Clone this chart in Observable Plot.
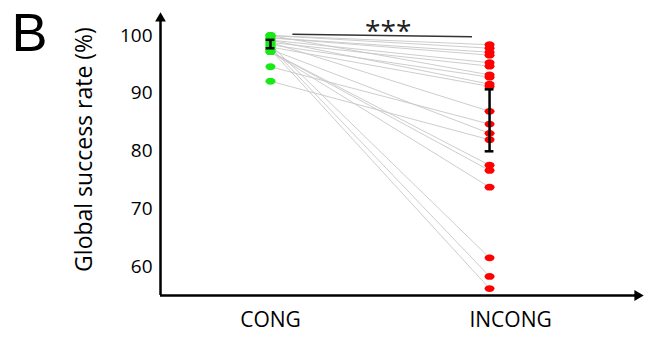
<!DOCTYPE html>
<html>
<head>
<meta charset="utf-8">
<script src="https://cdn.jsdelivr.net/npm/d3@7"></script>
<script src="https://cdn.jsdelivr.net/npm/@observablehq/plot@0.6"></script>
<style>
  html, body { margin: 0; padding: 0; background: white; }
</style>
</head>
<body>
<div id="chart"></div>
<script>
// ---- data ----
const categories = ["CONG", "INCONG"];
const congValues   = [100, 100, 100, 99.6, 99.6, 99.2, 99.2, 98.8, 98.8, 98.4, 98.4, 98.0, 98.0, 97.6, 97.6, 97.2, 97.2, 97.2, 94.6, 92.1];
const incongValues = [98.4, 97.8, 93.2, 97.1, 96.6, 95.3, 91.6, 94.7, 86.9, 92.8, 61.6, 91.2, 58.4, 83.1, 56.3, 77.6, 76.7, 73.8, 84.7, 82.0];
const errMean = [98.5, 85.35];
const errLow  = [97.8, 80.0];
const errHigh = [99.25, 90.7];
const yTicks = [60, 70, 80, 90, 100];
const yLabel = "Global success rate (%)";
const panelLabel = "B";
const sigLabel = "***";
const sigBarY = [100.2, 99.8];   // significance bar, value units at its two ends
const sigBarX = [0.1, 0.92];     // category-index units
const sigLabelY = 100.6;

// ---- build tables ----
const rows = [];
congValues.forEach((v, i) => {
  rows.push({p: i, c: 0, v});
  rows.push({p: i, c: 1, v: incongValues[i]});
});
const errs = categories.map((c, i) => ({c: i, mean: errMean[i], lo: errLow[i], hi: errHigh[i]}));
const colors = ["#18ea18", "#ff0000"];

const xDomain = [-0.502, 1.689];
const yDomain = [55.1, 103.45];

const ellipse = {
  draw(ctx, size) {
    const r = Math.sqrt(size / Math.PI);
    const rx = r * 1.25, ry = r * 0.85, k = 0.5523;
    ctx.moveTo(rx, 0);
    ctx.bezierCurveTo(rx, ry * k, rx * k, ry, 0, ry);
    ctx.bezierCurveTo(-rx * k, ry, -rx, ry * k, -rx, 0);
    ctx.bezierCurveTo(-rx, -ry * k, -rx * k, -ry, 0, -ry);
    ctx.bezierCurveTo(rx * k, -ry, rx, -ry * k, rx, 0);
    ctx.closePath();
  }
};

const chart = Plot.plot({
  width: 655,
  height: 339,
  marginLeft: 160,
  marginRight: 15,
  marginTop: 15,
  marginBottom: 44,
  style: {fontFamily: "'Open Sans', sans-serif", fontSize: "20px", background: "white", color: "black", overflow: "visible"},
  x: {domain: xDomain, axis: null},
  y: {domain: yDomain, axis: null},
  marks: [
    // connecting lines
    Plot.line(rows, {x: "c", y: "v", z: "p", stroke: "#c8c8c8", strokeWidth: 1, strokeOpacity: 0.9}),
    // dots
    Plot.dot(rows, {x: "c", y: "v", r: 4, symbol: ellipse, fill: d => colors[d.c], stroke: "none"}),
    // error bars
    Plot.ruleX(errs, {x: "c", y1: "lo", y2: "hi", stroke: "black", strokeWidth: 2.5}),
    Plot.ruleY(errs, {y: "lo", x1: d => d.c - 0.02, x2: d => d.c + 0.02, stroke: "black", strokeWidth: 2.5}),
    Plot.ruleY(errs, {y: "hi", x1: d => d.c - 0.02, x2: d => d.c + 0.02, stroke: "black", strokeWidth: 2.5}),
    // significance bar + label
    Plot.link([0], {x1: () => sigBarX[0], x2: () => sigBarX[1], y1: () => sigBarY[0], y2: () => sigBarY[1], stroke: "#333", strokeWidth: 1.5}),
    Plot.text([sigLabel], {x: () => (sigBarX[0] + sigBarX[1]) / 2, y: () => sigLabelY, text: d => d, fontSize: 28, letterSpacing: 4, dx: 6, fill: "#222"}),
    // axes lines
    Plot.ruleX([xDomain[0]], {stroke: "black", strokeWidth: 2.5}),
    Plot.ruleY([yDomain[0]], {stroke: "black", strokeWidth: 2.5}),
    // arrow heads
    Plot.dot([0], {frameAnchor: "top-left", symbol: "triangle", r: 4, fill: "black", dy: 3}),
    Plot.dot([0], {frameAnchor: "bottom-right", symbol: "triangle", r: 4, fill: "black", rotate: 90, dx: -3}),
    // axes tick labels
    Plot.axisY({ticks: yTicks, tickSize: 0, tickPadding: 8, label: null, fontSize: 19}),
    Plot.axisX({ticks: [0], tickFormat: i => categories[i], tickSize: 0, tickPadding: 17, label: null, fontSize: 21}),
    Plot.axisX({ticks: [1], tickFormat: i => categories[i], tickSize: 0, tickPadding: 17, label: null, fontSize: 21, dx: 21}),
    // y label
    Plot.text([yLabel], {frameAnchor: "left", rotate: -90, dx: -76, dy: -6, text: d => d, fontSize: 23, textAnchor: "middle"}),
    // panel letter
    Plot.text([panelLabel], {frameAnchor: "top-left", dx: -149, dy: -3, text: d => d, fontSize: 54, fontFamily: "'Liberation Sans', Arial, sans-serif", textAnchor: "start", lineAnchor: "top"})
  ]
});
document.getElementById("chart").appendChild(chart);
</script>
</body>
</html>
